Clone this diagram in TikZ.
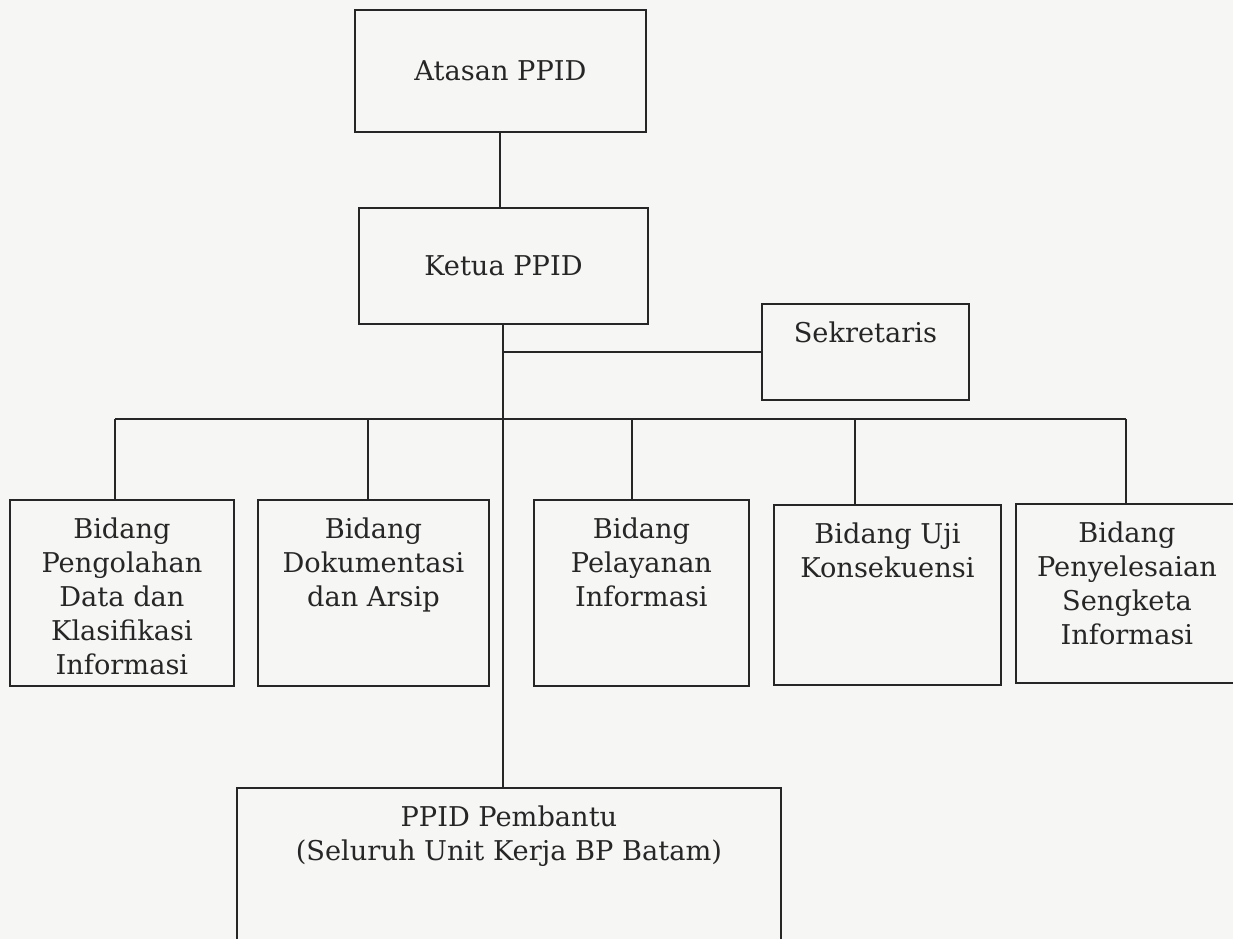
\documentclass[tikz,border=0pt]{standalone}
\usepackage{fontspec}
\setmainfont{DejaVu Serif}
\usetikzlibrary{calc}
\definecolor{paper}{RGB}{246,247,245}
\definecolor{ink}{RGB}{38,38,38}

\begin{document}
\begin{tikzpicture}[x=0.02cm,y=-0.02cm,font=\fontsize{15.5}{19.4}\selectfont,
  unit/.style={draw=ink,line width=1.1pt,anchor=north west,inner sep=0pt,text=ink},
  unittext/.style={anchor=north,inner sep=0pt,align=center,yshift=-0.37cm,text=ink}]
  \useasboundingbox (0,0) rectangle (1233,939);
  \clip (0,0) rectangle (1233,939);
  \fill[paper] (0,0) rectangle (1233,939);
  \node[unit,minimum width=5.82cm,minimum height=2.44cm] (atasan) at (354,9) {Atasan PPID};
  \node[unit,minimum width=5.78cm,minimum height=2.32cm] (ketua) at (358,207) {Ketua PPID};
  \node[unit,minimum width=4.14cm,minimum height=1.92cm,label={[unittext]north:Sekretaris}] (sekre) at (761,303) {};
  \node[unit,minimum width=4.48cm,minimum height=3.72cm,
    label={[unittext]north:{Bidang\\Pengolahan\\Data dan\\Klasifikasi\\Informasi}}] (b1) at (9,499) {};
  \node[unit,minimum width=4.62cm,minimum height=3.72cm,
    label={[unittext]north:{Bidang\\Dokumentasi\\dan Arsip}}] (b2) at (257,499) {};
  \node[unit,minimum width=4.30cm,minimum height=3.72cm,
    label={[unittext]north:{Bidang\\Pelayanan\\Informasi}}] (b3) at (533,499) {};
  \node[unit,minimum width=4.54cm,minimum height=3.60cm,
    label={[unittext]north:{Bidang Uji\\Konsekuensi}}] (b4) at (773,504) {};
  \node[unit,minimum width=4.44cm,minimum height=3.58cm,
    label={[unittext]north:{Bidang\\Penyelesaian\\Sengketa\\Informasi}}] (b5) at (1015,503) {};
  \node[unit,minimum width=10.88cm,minimum height=3.2cm,
    label={[unittext]north:{PPID Pembantu\\(Seluruh Unit Kerja BP Batam)}}] (pembantu) at (236,787) {};
  \draw[ink,line width=1.1pt] (atasan.south) -- (atasan.south |- ketua.north);
  \draw[ink,line width=1.1pt] (ketua.south) -- (ketua.south |- pembantu.north);
  \draw[ink,line width=1.1pt] (sekre.west) -- (sekre.west -| ketua.south);
  \foreach \b/\x [count=\i] in {b1/115,b2/368,b3/632,b4/855,b5/1126} {
    \coordinate (d\i) at (\x,419);
    \draw[ink,line width=1.1pt] (d\i) -- (d\i |- \b.north);
  }
  \draw[ink,line width=1.1pt] (d1) -- (d5);
\end{tikzpicture}
\end{document}
